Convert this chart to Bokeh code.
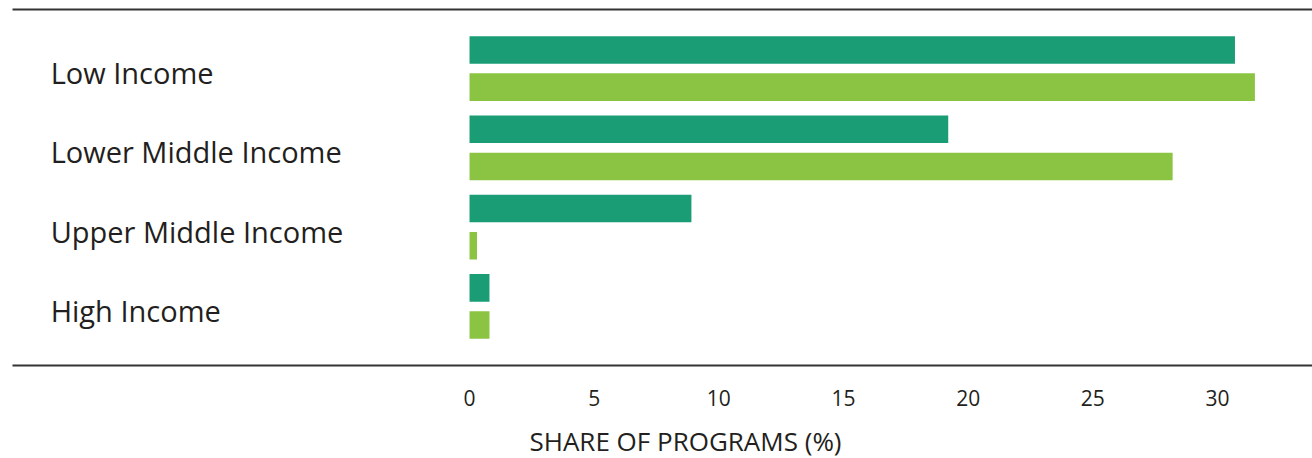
from bokeh.plotting import figure
from bokeh.models import FactorRange, Range1d, LinearAxis, FixedTicker, Title, ColumnDataSource
from bokeh.transform import dodge
from bokeh.core.properties import value
from bokeh.embed import file_html
from bokeh.resources import INLINE

# ---- data ----
categories = ["Low Income", "Lower Middle Income", "Upper Middle Income", "High Income"]
series_dark = [30.7, 19.2, 8.9, 0.8]
series_light = [31.5, 28.2, 0.3, 0.8]
x_ticks = [0, 5, 10, 15, 20, 25, 30]
x_title = "SHARE OF PROGRAMS (%)"

# ---- style ----
DARK = "#1a9c75"
LIGHT = "#8bc443"
TEXT = "#231f20"
LINE = "#333333"
FONT = "Open Sans"

y_factors = list(reversed(categories))
p = figure(width=1312, height=458, output_backend="svg", toolbar_location=None,
           y_range=FactorRange(factors=y_factors, range_padding=0.245,
                               range_padding_units="absolute"),
           x_range=Range1d(-18.33, 33.81),
           y_axis_location=None,
           min_border_left=12, min_border_right=0, min_border_top=9, min_border_bottom=93)
p.outline_line_color = None
p.xgrid.visible = False
p.ygrid.visible = False

src = ColumnDataSource(dict(cat=categories, dark=series_dark, light=series_light))
p.hbar(y=dodge("cat", 0.234, range=p.y_range), left=0, right="dark", height=0.347,
       fill_color=DARK, line_color=None, source=src)
p.hbar(y=dodge("cat", -0.234, range=p.y_range), left=0, right="light", height=0.347,
       fill_color=LIGHT, line_color=None, source=src)

p.text(x=-16.8, y="cat", text="cat", source=src, text_font=value(FONT),
       text_font_size="29px", text_color=TEXT, text_align="left",
       text_baseline="alphabetic", y_offset=4)

xa = p.xaxis[0]
xa.ticker = FixedTicker(ticks=x_ticks)
xa.major_tick_line_color = None
xa.minor_tick_line_color = None
xa.major_tick_out = 0
xa.major_tick_in = 0
xa.axis_line_width = 2
xa.axis_line_color = LINE
xa.major_label_text_font = FONT
xa.major_label_text_font_size = "21px"
xa.major_label_text_color = TEXT
xa.major_label_standoff = 24

top_axis = LinearAxis(ticker=FixedTicker(ticks=[]), axis_line_width=2, axis_line_color=LINE,
                      major_tick_line_color=None, minor_tick_line_color=None,
                      major_label_text_font_size="0px", major_tick_out=0, major_label_standoff=0)
p.add_layout(top_axis, "above")

# invisible spacer between tick labels and the axis title
spacer = LinearAxis(ticker=FixedTicker(ticks=[x_ticks[0]]), axis_line_color=None,
                    major_tick_line_color=None, minor_tick_line_color=None,
                    major_label_overrides={x_ticks[0]: ""},
                    major_label_text_font_size="0px", major_tick_out=15, major_tick_in=0,
                    major_label_standoff=0)
p.add_layout(spacer, "below")

p.add_layout(Title(text=x_title, align="left", offset=517, text_font=FONT,
                   text_font_size="26px", text_font_style="normal", text_color=TEXT,
                   standoff=-6), "below")

open("out.html", "w").write(file_html(p, INLINE))
